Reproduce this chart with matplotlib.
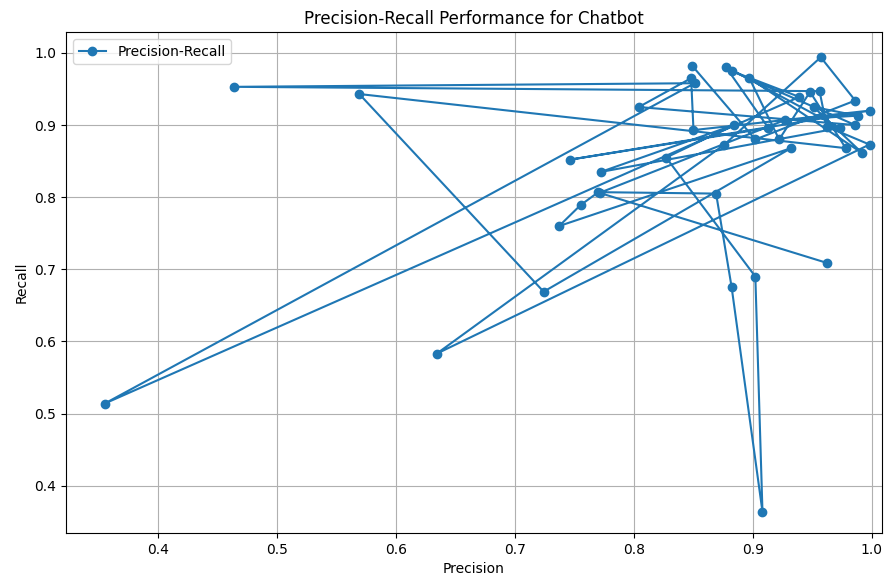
import matplotlib
matplotlib.use("Agg")
import matplotlib.pyplot as plt

precision = [0.849, 0.902, 0.986, 0.957, 0.876, 0.634, 0.998, 0.962, 0.956, 0.464,
             0.851, 0.355, 0.939, 0.882, 0.986, 0.804, 0.848, 0.850, 0.998, 0.746,
             0.913, 0.877, 0.973, 0.772, 0.884, 0.827, 0.902, 0.908, 0.882, 0.869,
             0.770, 0.755, 0.737, 0.932, 0.724, 0.569, 0.978, 0.948, 0.922, 0.897,
             0.992, 0.951, 0.988, 0.927, 0.771, 0.962]
recall = [0.982, 0.880, 0.934, 0.994, 0.873, 0.583, 0.873, 0.898, 0.947, 0.953,
          0.958, 0.514, 0.939, 0.975, 0.900, 0.925, 0.965, 0.893, 0.920, 0.852,
          0.896, 0.981, 0.896, 0.835, 0.900, 0.855, 0.690, 0.364, 0.676, 0.805,
          0.807, 0.789, 0.760, 0.868, 0.669, 0.943, 0.868, 0.946, 0.880, 0.965,
          0.861, 0.925, 0.913, 0.907, 0.806, 0.709]

fig = plt.figure(figsize=(8.94, 5.84), dpi=100)
ax = fig.add_axes([66/894, 1-533/584, (882-66)/894, (533-32)/584])
ax.plot(precision, recall, marker='o', linestyle='-', label='Precision-Recall')
ax.set_xlim(0.3224, 1.0085)
ax.set_ylim(0.3345, 1.029)
ax.set_xlabel('Precision')
ax.set_ylabel('Recall')
ax.set_title('Precision-Recall Performance for Chatbot')
ax.grid(True)
ax.legend(loc='upper left')
fig.savefig('out.png', dpi=100)
